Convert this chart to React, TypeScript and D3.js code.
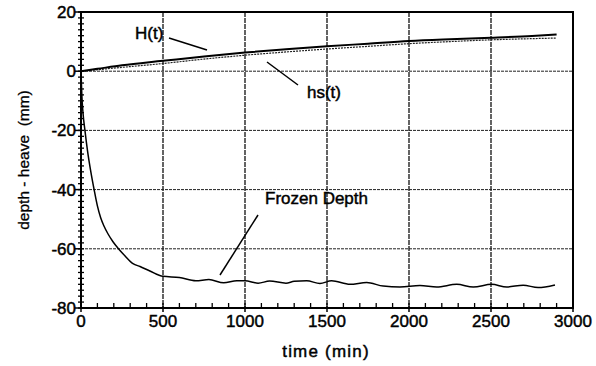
import React from "react";
import * as d3 from "d3";

const W = 596;
const H = 366;

// heave curves
const heaveTime = [0, 100, 250, 500, 750, 1000, 1250, 1500, 1750, 2000, 2250, 2500, 2750, 2900];
const heaveTotal = [0, 0.8, 2.0, 3.5, 5.0, 6.3, 7.4, 8.4, 9.3, 10.2, 10.8, 11.3, 11.9, 12.4];
const heaveSegregation = [0, 0.5, 1.3, 2.6, 4.1, 5.4, 6.5, 7.5, 8.4, 9.3, 10.0, 10.6, 11.0, 11.2];

// frozen depth (negative = below surface)
const frostTime = [0, 5, 12, 24, 40, 60, 80, 100, 120, 140, 165, 195, 226, 270, 317, 360, 420, 500, 600, 700, 780, 870, 950, 1000, 1080, 1150, 1250, 1300, 1376, 1457, 1528, 1640, 1742, 1843, 1945, 2067, 2169, 2291, 2392, 2504, 2596, 2696, 2787, 2890];
const frostDepth = [0, -8, -14, -20, -27, -34, -40, -45.5, -49.5, -52.3, -55, -57.6, -59.8, -62.5, -65, -66, -67.5, -69.3, -69.7, -70.8, -70.4, -71.5, -70.8, -70.8, -71.6, -70.9, -71.6, -71, -70.8, -71.7, -70.8, -72, -71.4, -72.6, -72.9, -72.4, -72.9, -72, -72.9, -72, -72.9, -72.3, -73.1, -72.2];

const xTicks = [0, 500, 1000, 1500, 2000, 2500, 3000];
const yTicks = [20, 0, -20, -40, -60, -80];

const FONT = "'Liberation Sans', Arial, Helvetica, sans-serif";

export default function App() {
  const left = 81, right = 573, top = 12, bottom = 308;
  const x = d3.scaleLinear().domain([0, 3000]).range([left, right]);
  const y = d3.scaleLinear().domain([-80, 20]).range([bottom, top]);

  const line = d3
    .line<[number, number]>()
    .x((d) => x(d[0]))
    .y((d) => y(d[1]))
    .curve(d3.curveMonotoneX);

  const hPath = line(heaveTime.map((t, i) => [t, heaveTotal[i]]) as [number, number][]) || "";
  const hsPath = line(heaveTime.map((t, i) => [t, heaveSegregation[i]]) as [number, number][]) || "";
  const fPath = line(frostTime.map((t, i) => [t, frostDepth[i]]) as [number, number][]) || "";

  const xMinor = d3.range(0, 3001, 100);
  const yMinor = d3.range(-80, 21, 2);

  // regular face, thickened slightly with a hairline stroke
  const label = { fontFamily: FONT, fill: "#000", stroke: "#000", strokeWidth: 0.45 };

  return (
    <svg width={W} height={H} style={{ position: "absolute", left: 0, top: 0, background: "#fff" }}>
      {/* grid */}
      {xTicks.slice(1, -1).map((t) => (
        <line key={"gx" + t} x1={x(t)} x2={x(t)} y1={top} y2={bottom} stroke="#111" strokeWidth={1.3} strokeDasharray="5,1" />
      ))}
      {yTicks.slice(1, -1).map((v) => (
        <line key={"gy" + v} x1={left} x2={right} y1={y(v)} y2={y(v)} stroke="#222" strokeWidth={1} strokeDasharray="3,1" />
      ))}

      {/* minor ticks */}
      {yMinor.map((v) => (
        <line key={"ym" + v} x1={left - 3} x2={left + 3} y1={y(v)} y2={y(v)} stroke="#000" strokeWidth={1.3} />
      ))}
      {xMinor.map((t) => (
        <line key={"xm" + t} x1={x(t)} x2={x(t)} y1={bottom} y2={bottom - 5} stroke="#000" strokeWidth={1.3} />
      ))}
      {yTicks.map((v) => (
        <line key={"yM" + v} x1={left - 6} x2={left} y1={y(v)} y2={y(v)} stroke="#000" strokeWidth={1.5} />
      ))}
      {xTicks.map((t) => (
        <line key={"xM" + t} x1={x(t)} x2={x(t)} y1={bottom} y2={bottom + 4} stroke="#000" strokeWidth={1.5} />
      ))}

      {/* frame */}
      <rect x={left} y={top} width={right - left} height={bottom - top} fill="none" stroke="#000" strokeWidth={2} />

      {/* data */}
      <path d={hsPath} fill="none" stroke="#222" strokeWidth={1.2} strokeDasharray="2,1" />
      <path d={hPath} fill="none" stroke="#000" strokeWidth={2} />
      <path d={fPath} fill="none" stroke="#000" strokeWidth={1.5} />

      {/* tick labels */}
      {yTicks.map((v) => (
        <text key={"yl" + v} x={left - 5} y={y(v) + 6} textAnchor="end" fontSize={17} {...label}>
          {v}
        </text>
      ))}
      {xTicks.map((t) => (
        <text key={"xl" + t} x={x(t)} y={bottom + 19} textAnchor="middle" fontSize={17} {...label}>
          {t}
        </text>
      ))}

      {/* axis titles */}
      <text x={326} y={357} textAnchor="middle" fontSize={17} letterSpacing={1.2} {...label}>
        time (min)
      </text>
      <text transform={`translate(29,${(top + bottom) / 2}) rotate(-90)`} textAnchor="middle" fontSize={15.5} {...label} strokeWidth={0.3} style={{ whiteSpace: "pre" }}>
        {"depth - heave  (mm)"}
      </text>

      {/* annotations */}
      <text x={135} y={38.5} fontSize={17} {...label}>H(t)</text>
      <line x1={169} y1={38} x2={207} y2={50} stroke="#000" strokeWidth={1.5} />
      <text x={307} y={98} fontSize={17} {...label}>hs(t)</text>
      <line x1={267} y1={62} x2={298} y2={85} stroke="#000" strokeWidth={1.5} />
      <text x={265} y={204} fontSize={17} {...label}>Frozen Depth</text>
      <line x1={258} y1={215} x2={220} y2={275} stroke="#000" strokeWidth={1.5} />
    </svg>
  );
}
